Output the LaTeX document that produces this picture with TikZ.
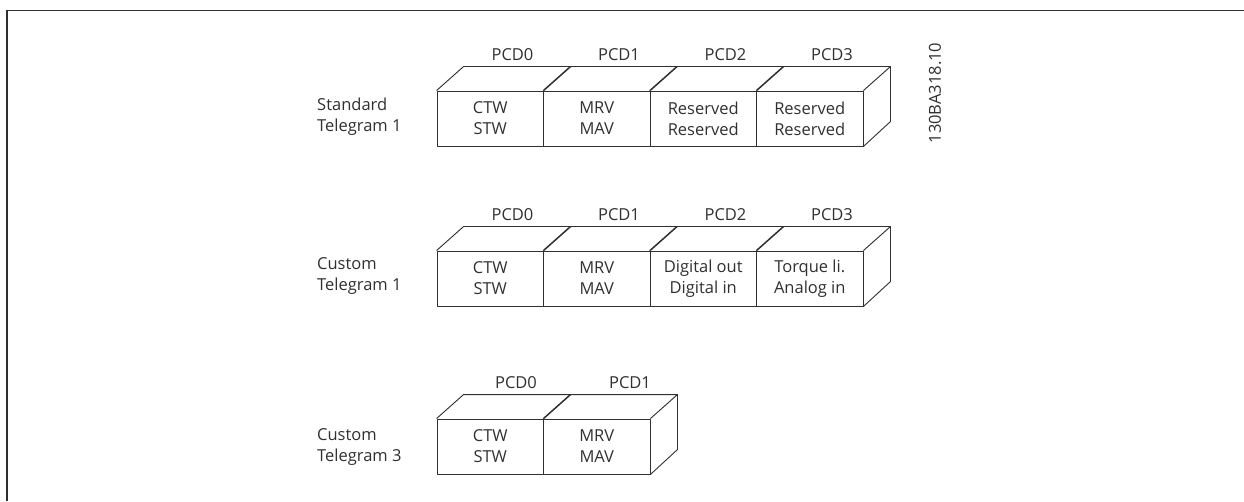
\documentclass[tikz,border=0pt]{standalone}
\usepackage{fontspec}
\setmainfont{Open Sans}
\usetikzlibrary{calc}
\definecolor{ink}{HTML}{303030}
\tikzset{
  x=1pt,y=1pt,
  line/.style={draw=ink,line width=0.9pt,line join=round},
  cell/.style={line,rectangle,minimum width=106.5pt,minimum height=55pt,inner sep=0pt,align=center,text=ink,font=\fontsize{16.5}{21}\selectfont},
  lbl/.style={text=ink,font=\fontsize{16.5}{21}\selectfont,inner sep=0pt},
  rowlbl/.style={lbl,anchor=west,align=left},
}
\newcommand{\topface}[1]{\draw[line] (#1.north west) -- ++(27,24) -- ($(#1.north east)+(27,24)$) -- (#1.north east);}
\newcommand{\sideface}[1]{\draw[line] ($(#1.north east)+(27,24)$) -- ++(0,-55) -- (#1.south east);}
\begin{document}
\begin{tikzpicture}
\useasboundingbox (0,0) rectangle (1244,501);
\draw[draw=ink,line width=1.5pt] (7,0) -- (7,490.5) -- (1244,490.5);
% Row 1
\node[cell] (a0) at (490.25,382.5) {CTW\\STW};
\node[cell] (a1) at (596.75,382.5) {MRV\\MAV};
\node[cell] (a2) at (703.25,382.5) {Reserved\\Reserved};
\node[cell] (a3) at (809.75,382.5) {Reserved\\Reserved};
\foreach \c in {a0,a1,a2,a3} {\topface{\c}}
\sideface{a3}
\node[lbl] (pa0) at (512.5,446) {PCD0};
\node[lbl] (pa1) at (619,446) {PCD1};
\node[lbl] (pa2) at (725.5,446) {PCD2};
\node[lbl] (pa3) at (832,446) {PCD3};
\node[rowlbl] (la) at (317,384) {Standard\\Telegram 1};
\node[lbl,rotate=90] (code) at (935,408) {130BA318.10};
% Row 2
\node[cell] (b0) at (490.25,222.5) {CTW\\STW};
\node[cell] (b1) at (596.75,222.5) {MRV\\MAV};
\node[cell] (b2) at (703.25,222.5) {Digital out\\Digital in};
\node[cell] (b3) at (809.75,222.5) {Torque li.\\Analog in};
\foreach \c in {b0,b1,b2,b3} {\topface{\c}}
\sideface{b3}
\node[lbl] (pb0) at (512.5,286) {PCD0};
\node[lbl] (pb1) at (619,286) {PCD1};
\node[lbl] (pb2) at (725.5,286) {PCD2};
\node[lbl] (pb3) at (832,286) {PCD3};
\node[rowlbl] (lb) at (317,224.5) {Custom\\Telegram 1};
% Row 3
\node[cell] (c0) at (490.25,54.5) {CTW\\STW};
\node[cell] (c1) at (596.75,54.5) {MRV\\MAV};
\foreach \c in {c0,c1} {\topface{\c}}
\sideface{c1}
\node[lbl] (pc0) at (516,118) {PCD0};
\node[lbl] (pc1) at (630,118) {PCD1};
\node[rowlbl] (lc) at (317,54) {Custom\\Telegram 3};
\end{tikzpicture}
\end{document}
